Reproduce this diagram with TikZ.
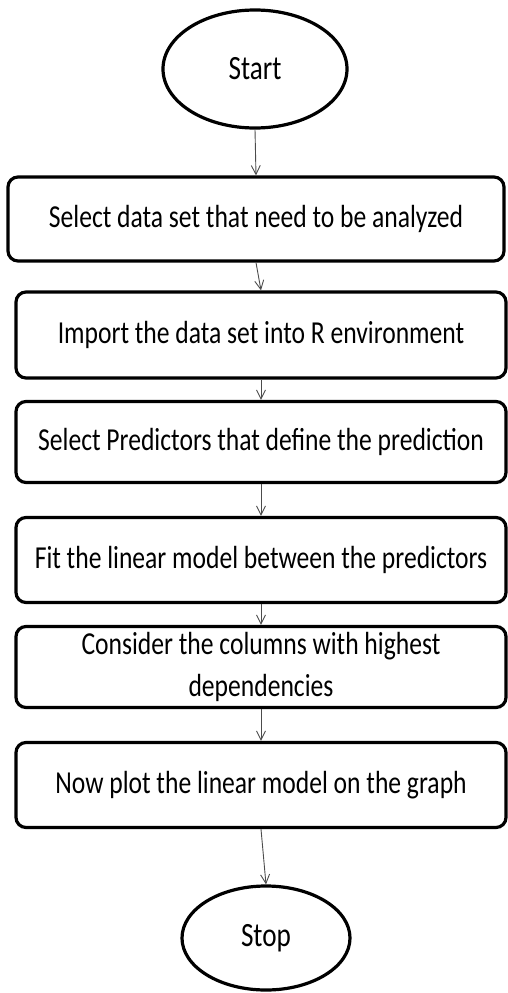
\documentclass[tikz,border=0pt]{standalone}
\usepackage{fontspec}
\setmainfont{Carlito}[FakeStretch=0.8]
\usetikzlibrary{arrows.meta,shapes.geometric}

\tikzset{
  stepbox/.style={draw, rounded corners=10pt, line width=3.2pt, align=center,
    minimum width=490pt, font=\fontsize{32}{42}\selectfont},
  terminal/.style={draw, ellipse, line width=3.2pt, inner sep=0pt,
    font=\fontsize{34}{38}\selectfont},
  flow/.style={draw=black!70, line width=0.9pt, -{Straight Barb[length=9pt,width=9pt]}}
}

\begin{document}
\begin{tikzpicture}[x=1pt,y=-1pt]
\useasboundingbox (0,0) rectangle (508,993);

% start / stop
\node[terminal, minimum width=184pt, minimum height=118pt] (start) at (255,69) {Start};
\node[terminal, minimum width=168pt, minimum height=104pt] (stop) at (266,938) {Stop};

% process steps
\node[stepbox, minimum width=496pt, minimum height=84pt] (select) at (256,219) {Select data set that need to be analyzed};
\node[stepbox, minimum height=86pt] (import) at (261,335) {Import the data set into R environment};
\node[stepbox, minimum height=81pt] (predictors) at (261,442) {Select Predictors that define the prediction};
\node[stepbox, minimum height=85pt] (fit) at (261,560) {Fit the linear model between the predictors};
\node[stepbox, minimum height=81pt] (columns) at (261,667) {Consider the columns with highest\\dependencies};
\node[stepbox, minimum height=85pt] (plot) at (261,785) {Now plot the linear model on the graph};

% connectors
\draw[flow] (start.south) -- (select.north);
\draw[flow] (select.south) -- (import.north);
\draw[flow] (import.south) -- (predictors.north);
\draw[flow] (predictors.south) -- (fit.north);
\draw[flow] (fit.south) -- (columns.north);
\draw[flow] (columns.south) -- (plot.north);
\draw[flow] (plot.south) -- (stop.north);
\end{tikzpicture}
\end{document}
